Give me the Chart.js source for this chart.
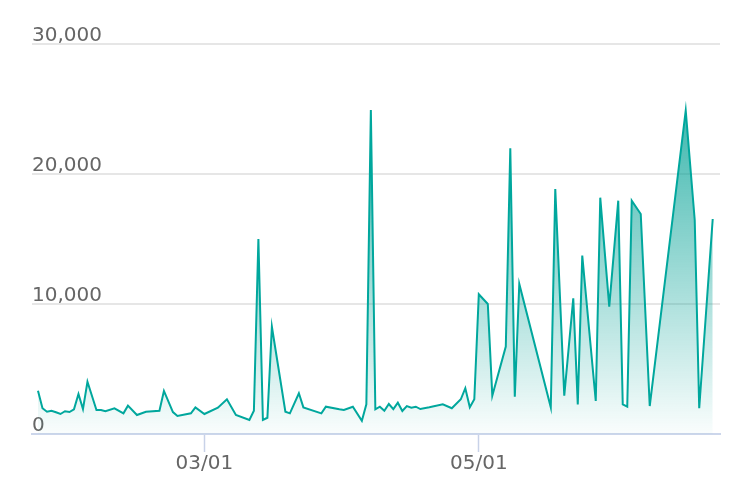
<!DOCTYPE html>
<html>
<head>
<meta charset="utf-8">
<script src="https://cdn.jsdelivr.net/npm/chart.js@4.4.1/dist/chart.umd.min.js"></script>
<style>
  html, body { margin: 0; padding: 0; background: #fff; }
</style>
</head>
<body>
<canvas id="dailyChart" width="752" height="502"></canvas>
<script>
// daily values (2023)
const dates = [
  "2023-01-23", "2023-01-24", "2023-01-25", "2023-01-26", "2023-01-27", "2023-01-28",
  "2023-01-29", "2023-01-30", "2023-01-31", "2023-02-01", "2023-02-02", "2023-02-03",
  "2023-02-05", "2023-02-06", "2023-02-07", "2023-02-09", "2023-02-11", "2023-02-12",
  "2023-02-14", "2023-02-16", "2023-02-19", "2023-02-20", "2023-02-22", "2023-02-23",
  "2023-02-26", "2023-02-27", "2023-03-01", "2023-03-04", "2023-03-06", "2023-03-08",
  "2023-03-11", "2023-03-12", "2023-03-13", "2023-03-14", "2023-03-15", "2023-03-16",
  "2023-03-19", "2023-03-20", "2023-03-22", "2023-03-23", "2023-03-27", "2023-03-28",
  "2023-03-31", "2023-04-01", "2023-04-03", "2023-04-05", "2023-04-06", "2023-04-07",
  "2023-04-08", "2023-04-09", "2023-04-10", "2023-04-11", "2023-04-12", "2023-04-13",
  "2023-04-14", "2023-04-15", "2023-04-16", "2023-04-17", "2023-04-18", "2023-04-20",
  "2023-04-23", "2023-04-25", "2023-04-27", "2023-04-28", "2023-04-29", "2023-04-30",
  "2023-05-01", "2023-05-03", "2023-05-04", "2023-05-07", "2023-05-08", "2023-05-09",
  "2023-05-10", "2023-05-17", "2023-05-18", "2023-05-20", "2023-05-22", "2023-05-23",
  "2023-05-24", "2023-05-27", "2023-05-28", "2023-05-30", "2023-06-01", "2023-06-02",
  "2023-06-03", "2023-06-04", "2023-06-06", "2023-06-08", "2023-06-16", "2023-06-18",
  "2023-06-19", "2023-06-22"
];
const values = [
  3330, 1980, 1715, 1790, 1670, 1540,
  1750, 1690, 1900, 3080, 1920, 4020,
  1850, 1850, 1750, 1980, 1590, 2180,
  1460, 1715, 1790, 3310, 1690, 1385,
  1590, 2050, 1540, 2020, 2670, 1460,
  1080, 1790, 15000, 1080, 1250, 8250,
  1715, 1590, 3130, 2050, 1590, 2100,
  1900, 1850, 2100, 1020, 2280, 24920,
  1900, 2100, 1790, 2310, 1920, 2410,
  1770, 2150, 2020, 2100, 1920, 2050,
  2280, 1980, 2670, 3520, 2050, 2670,
  10750, 10000, 2950, 6720, 21980, 2870,
  11540, 2050, 18850, 2950, 10440, 2280,
  13720, 2540, 18180, 9800, 17950, 2280,
  2100, 17950, 16920, 2150, 24870, 16460,
  1980, 16540
];
const tickDates = ["2023-03-01", "2023-05-01"];
const yTicks = [0, 10000, 20000, 30000];

const DAY = 86400000;
function dayOfYear(str) {
  const d = new Date(str + "T00:00:00Z");
  return (d.getTime() - Date.UTC(d.getUTCFullYear(), 0, 1)) / DAY;
}
function shortLabel(day) {
  const d = new Date(Date.UTC(2023, 0, 1) + day * DAY);
  const mm = String(d.getUTCMonth() + 1).padStart(2, "0");
  const dd = String(d.getUTCDate()).padStart(2, "0");
  return mm + "/" + dd;
}

const points = dates.map((s, i) => ({ x: dayOfYear(s), y: values[i] }));
const tickDays = tickDates.map(dayOfYear);

Chart.defaults.font.family = "'DejaVu Sans', sans-serif";
Chart.defaults.font.size = 20;
Chart.defaults.color = "#666666";

function areaGradient(context) {
  const area = context.chart.chartArea;
  if (!area) return "rgba(0,160,148,0.3)";
  const g = context.chart.ctx.createLinearGradient(0, area.top, 0, area.bottom);
  g.addColorStop(0, "rgba(0,160,148,0.9)");
  g.addColorStop(1, "rgba(0,160,148,0.02)");
  return g;
}

new Chart(document.getElementById("dailyChart"), {
  type: "line",
  data: {
    datasets: [{
      data: points,
      borderColor: "#00a79d",
      borderWidth: 2,
      backgroundColor: areaGradient,
      fill: "origin",
      pointRadius: 0,
      tension: 0
    }]
  },
  options: {
    responsive: false,
    animation: false,
    devicePixelRatio: 1,
    layout: { padding: { left: 32, right: 32, top: 44, bottom: 26 } },
    plugins: { legend: { display: false }, tooltip: { enabled: false } },
    scales: {
      x: {
        type: "linear",
        min: 20.67,
        max: 173.62,
        afterBuildTicks: axis => { axis.ticks = tickDays.map(v => ({ value: v })); },
        ticks: { callback: v => shortLabel(v), padding: 0, maxRotation: 0 },
        grid: { drawOnChartArea: false, drawTicks: true, tickLength: 18, color: "#c8d2e8", tickWidth: 1.5 },
        border: { display: true, color: "#ccd6eb", width: 2 }
      },
      y: {
        min: 0,
        max: 30000,
        afterBuildTicks: axis => { axis.ticks = yTicks.map(v => ({ value: v })); },
        ticks: {
          mirror: true,
          padding: 0,
          labelOffset: -8,
          callback: v => v.toLocaleString("en-US")
        },
        grid: { drawTicks: false, color: "#e6e6e6", lineWidth: 2 },
        border: { display: false }
      }
    }
  }
});
</script>
</body>
</html>
